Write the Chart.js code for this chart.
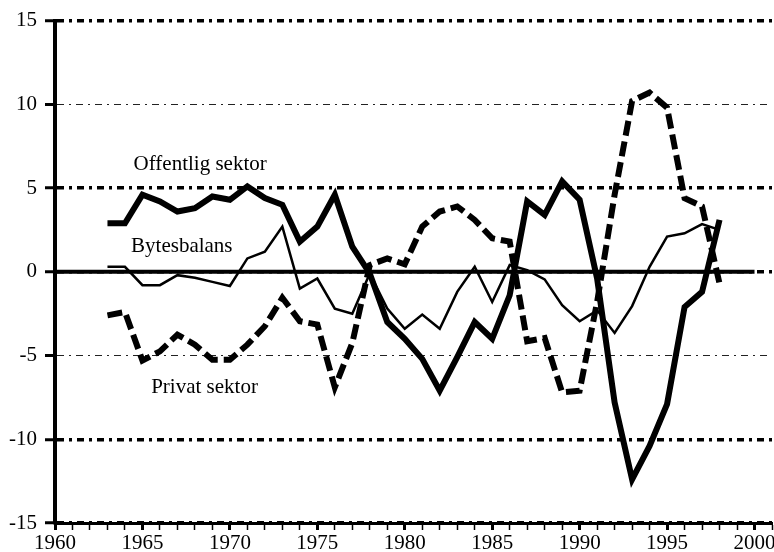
<!DOCTYPE html>
<html>
<head>
<meta charset="utf-8">
<script src="https://cdn.jsdelivr.net/npm/chart.js@4.4.0/dist/chart.umd.min.js"></script>
<style>
  body { margin: 0; background: #fff; }
  #wrap { width: 774px; height: 552px; }
</style>
</head>
<body>
<div id="wrap"><canvas id="balansChart"></canvas></div>
<script>
// Data, procent av BNP
const years = [1963, 1964, 1965, 1966, 1967, 1968, 1969, 1970, 1971, 1972,
               1973, 1974, 1975, 1976, 1977, 1978, 1979, 1980, 1981, 1982,
               1983, 1984, 1985, 1986, 1987, 1988, 1989, 1990, 1991, 1992,
               1993, 1994, 1995, 1996, 1997, 1998];
const offentlig = [2.9, 2.9, 4.6, 4.2, 3.6, 3.8, 4.5, 4.3, 5.1, 4.4,
                   4.0, 1.8, 2.7, 4.6, 1.5, -0.1, -3.0, -4.0, -5.2, -7.1,
                   -5.1, -3.0, -4.0, -1.4, 4.2, 3.4, 5.4, 4.3, -0.4, -7.8,
                   -12.4, -10.4, -7.9, -2.1, -1.2, 3.1];
const bytesbalans = [0.3, 0.3, -0.8, -0.8, -0.2, -0.35, -0.6, -0.85, 0.8, 1.2,
                     2.7, -1.0, -0.4, -2.2, -2.5, -0.1, -2.2, -3.4, -2.55, -3.4,
                     -1.2, 0.3, -1.8, 0.4, 0.1, -0.45, -2.0, -2.95, -2.3, -3.65,
                     -2.05, 0.3, 2.1, 2.3, 2.85, 2.5];
const privat = [-2.6, -2.4, -5.3, -4.75, -3.75, -4.35, -5.25, -5.25, -4.35, -3.25,
                -1.55, -2.95, -3.15, -6.9, -4.25, 0.4, 0.8, 0.45, 2.7, 3.6,
                3.9, 3.1, 2.0, 1.8, -4.15, -3.95, -7.2, -7.1, -1.8, 4.6,
                10.2, 10.7, 9.8, 4.4, 3.9, -0.7];
const nollLinje = [1960, 2000];
const thickGrid = [15, 5, 0, -10, -15];
const seriesNames = ['Offentlig sektor', 'Bytesbalans', 'Privat sektor'];

const font = { family: '"Liberation Serif", "Times New Roman", serif', size: 21 };

function pts(vals) {
    return years.map((y, i) => ({ x: y, y: vals[i] }));
}

// Texter vid kurvorna
const textPlugin = {
    id: 'seriesText',
    afterDatasetsDraw(chart) {
        const ctx = chart.ctx;
        const xs = chart.scales.x, ys = chart.scales.y;
        const pos = [[1968.3, 6.4], [1967.25, 1.52], [1968.55, -6.92]];
        ctx.save();
        ctx.font = font.size + 'px ' + font.family;
        ctx.fillStyle = '#000';
        ctx.textAlign = 'center';
        ctx.textBaseline = 'middle';
        seriesNames.forEach((t, i) => {
            ctx.fillText(t, xs.getPixelForValue(pos[i][0]), ys.getPixelForValue(pos[i][1]));
        });
        ctx.restore();
    }
};

new Chart(document.getElementById('balansChart'), {
    type: 'line',
    data: {
        datasets: [
            {
                label: 'noll',
                data: nollLinje.map(x => ({ x: x, y: 0 })),
                borderColor: '#000',
                borderWidth: 4,
                pointRadius: 0
            },
            {
                label: seriesNames[1],
                data: pts(bytesbalans),
                borderColor: '#000',
                borderWidth: 2.5,
                pointRadius: 0
            },
            {
                label: seriesNames[0],
                data: pts(offentlig),
                borderColor: '#000',
                borderWidth: 6,
                pointRadius: 0
            },
            {
                label: seriesNames[2],
                data: pts(privat),
                borderColor: '#000',
                borderWidth: 6,
                borderDash: [15, 6],
                pointRadius: 0
            }
        ]
    },
    options: {
        responsive: true,
        maintainAspectRatio: false,
        animation: false,
        layout: { padding: { top: 19, right: 2, left: 0, bottom: 0 } },
        plugins: { legend: { display: false }, tooltip: { enabled: false } },
        scales: {
            x: {
                type: 'linear',
                min: 1960,
                max: 2001,
                afterFit: s => { s.height = 29; },
                ticks: {
                    stepSize: 1,
                    autoSkip: false,
                    maxRotation: 0,
                    font: font,
                    color: '#000',
                    padding: 1,
                    callback: v => (v % 5 === 0 && v <= 2000) ? String(v) : ''
                },
                grid: {
                    drawOnChartArea: false,
                    drawTicks: true,
                    tickLength: 7,
                    tickColor: '#000',
                    tickWidth: c => (c.tick && c.tick.value % 5 === 0) ? 3 : 1.5
                },
                border: { color: '#000', width: 3 }
            },
            y: {
                min: -15,
                max: 15,
                afterFit: s => { s.width = 55; },
                ticks: { stepSize: 5, font: font, color: '#000', padding: 8 },
                grid: {
                    color: c => (c.tick && thickGrid.includes(c.tick.value)) ? '#000' : '#222',
                    lineWidth: c => (c.tick && thickGrid.includes(c.tick.value)) ? 3.5 : 1,
                    tickLength: 10,
                    tickWidth: 3,
                    tickColor: '#000'
                },
                border: {
                    color: '#000',
                    width: 4,
                    dash: c => c.tick ? (thickGrid.includes(c.tick.value) ? [7, 5, 3, 5] : [7, 5, 2, 5]) : []
                }
            }
        }
    },
    plugins: [textPlugin]
});
</script>
</body>
</html>
